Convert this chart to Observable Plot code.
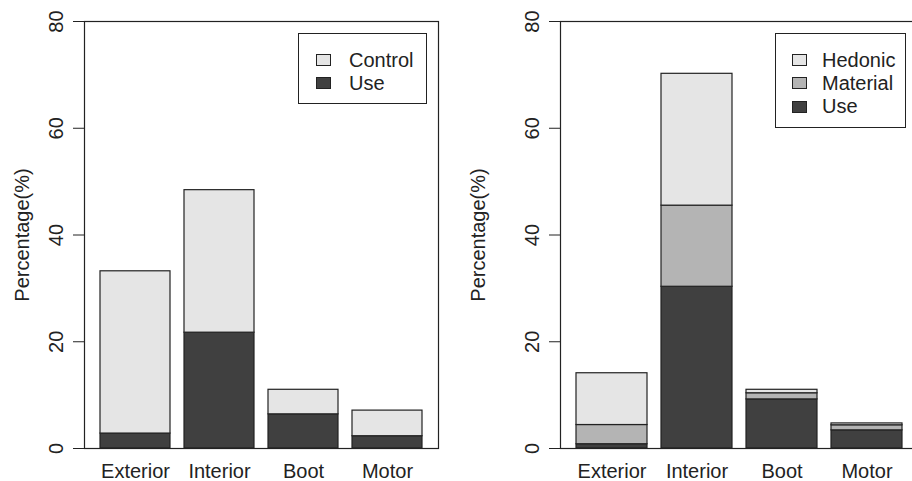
<!DOCTYPE html>
<html>
<head>
<meta charset="utf-8">
<script src="https://cdn.jsdelivr.net/npm/d3@7"></script>
<script src="https://cdn.jsdelivr.net/npm/@observablehq/plot@0.6"></script>
<style>
  html, body { margin: 0; padding: 0; background: #fff; }
  #wrap { position: relative; width: 912px; height: 481px; overflow: hidden; font-family: "Liberation Sans", Arial, sans-serif; }
  .panel { position: absolute; top: 0; }
  .legend { position: absolute; border: 1px solid #222; background: #fff; box-sizing: border-box; font-size: 20px; color: #222; }
  .legend .row { position: absolute; height: 23px; line-height: 23px; white-space: nowrap; }
  .legend .sw { position: absolute; width: 15px; height: 12px; border: 1px solid #222; box-sizing: border-box; top: 5.5px; }
  .legend .lab { position: absolute; }
</style>
</head>
<body>
<div id="wrap"></div>
<script>
// ---- data ----
const categories = ["Exterior", "Interior", "Boot", "Motor"];
const yTicks = [0, 20, 40, 60, 80];
const yLabel = "Percentage(%)";

// left panel
const leftSeries = ["Use", "Control"];
const leftUse = [2.8, 21.7, 6.4, 2.3];
const leftControl = [30.4, 26.7, 4.6, 4.8];
const leftColors = ["#404040", "#e5e5e5"];
const leftLegend = ["Control", "Use"];

// right panel
const rightSeries = ["Use", "Material", "Hedonic"];
const rightUse = [0.8, 30.3, 9.2, 3.4];
const rightMaterial = [3.6, 15.2, 1.15, 0.95];
const rightHedonic = [9.7, 24.7, 0.65, 0.35];
const rightColors = ["#404040", "#b4b4b4", "#e5e5e5"];
const rightLegend = ["Hedonic", "Material", "Use"];

function rows(series, arrays) {
  const out = [];
  series.forEach((s, i) => categories.forEach((c, j) => out.push({cat: c, series: s, value: arrays[i][j]})));
  return out;
}

function panel({data, series, colors, width, marginLeft, marginRight}) {
  return Plot.plot({
    width, height: 481,
    marginTop: 21, marginBottom: 33, marginLeft, marginRight,
    style: {fontFamily: "Liberation Sans, Arial, sans-serif", fontSize: "20px", color: "#222", background: "transparent"},
    x: {type: "band", domain: categories, padding: 0.165, label: null},
    y: {domain: [0, 80], label: null},
    color: {domain: series, range: colors},
    marks: [
      Plot.barY(data, {x: "cat", y: "value", fill: "series", stroke: "#222", strokeWidth: 1.2}),
      Plot.frame({stroke: "#222", strokeWidth: 1.2}),
      Plot.axisY({ticks: yTicks, tickSize: 11, tickRotate: -90, tickPadding: 11, label: null, stroke: "#222"}),
      Plot.axisX({tickSize: 0, tickPadding: 15, label: null}),
      Plot.text([yLabel], {frameAnchor: "left", rotate: -90, dx: -(marginLeft - 22), lineAnchor: "middle", textAnchor: "middle", fill: "#222"})
    ]
  });
}

function legend(labels, colorOf, box) {
  const div = document.createElement("div");
  div.className = "legend";
  Object.assign(div.style, {left: box.left + "px", top: box.top + "px", width: box.width + "px", height: box.height + "px"});
  labels.forEach((lab, i) => {
    const r = document.createElement("div");
    r.className = "row";
    r.style.top = (box.firstRow - box.top - 11.5 + i * 23.3) + "px";
    r.style.left = "0px";
    const sw = document.createElement("div");
    sw.className = "sw";
    sw.style.left = (box.swatchX - box.left) + "px";
    sw.style.background = colorOf(lab);
    const t = document.createElement("div");
    t.className = "lab";
    t.style.left = (box.textX - box.left) + "px";
    t.textContent = lab;
    r.appendChild(sw); r.appendChild(t);
    div.appendChild(r);
  });
  return div;
}

const wrap = document.getElementById("wrap");

const left = panel({data: rows(leftSeries, [leftUse, leftControl]), series: leftSeries, colors: leftColors, width: 456, marginLeft: 84, marginRight: 18});
left.classList.add("panel");
left.style.left = "0px";
wrap.appendChild(left);

const right = panel({data: rows(rightSeries, [rightUse, rightMaterial, rightHedonic]), series: rightSeries, colors: rightColors, width: 462, marginLeft: 104, marginRight: 0});
right.classList.add("panel");
right.style.left = "456px";
wrap.appendChild(right);

const lc = d3.scaleOrdinal(leftSeries, leftColors);
const rc = d3.scaleOrdinal(rightSeries, rightColors);
wrap.appendChild(legend(leftLegend, lc, {left: 298, top: 33, width: 129, height: 71, firstRow: 59, swatchX: 315, textX: 348}));
wrap.appendChild(legend(rightLegend, rc, {left: 775, top: 33, width: 131, height: 95, firstRow: 59, swatchX: 791, textX: 821}));
</script>
</body>
</html>
